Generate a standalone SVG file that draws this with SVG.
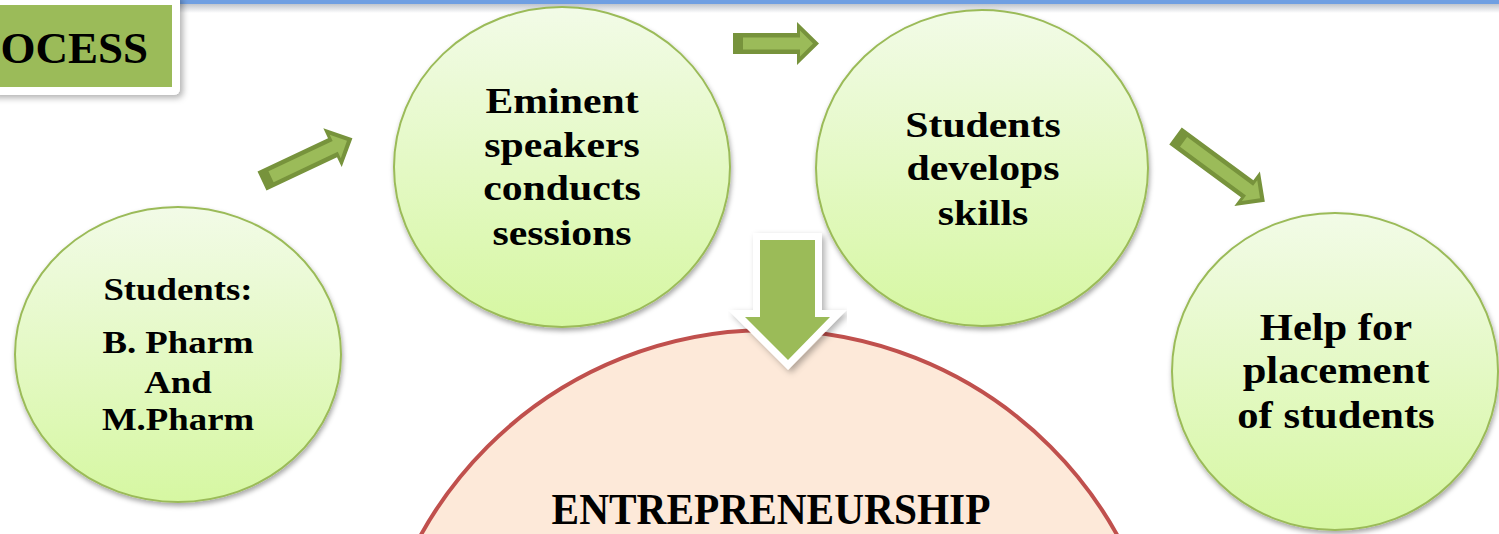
<svg xmlns="http://www.w3.org/2000/svg" width="1499" height="534" viewBox="0 0 1499 534">
<defs>
<linearGradient id="gfill" x1="0" y1="0" x2="0" y2="1">
<stop offset="0" stop-color="#F2FBE7"/>
<stop offset="1" stop-color="#D6F7A2"/>
</linearGradient>
<linearGradient id="topshade" x1="0" y1="0" x2="0" y2="1">
<stop offset="0" stop-color="#BFC4CC"/>
<stop offset="1" stop-color="#FFFFFF"/>
</linearGradient>
<filter id="shadow" x="-20%" y="-20%" width="140%" height="140%">
<feDropShadow dx="1" dy="3" stdDeviation="2.5" flood-color="#000" flood-opacity="0.35"/>
</filter>
<filter id="shadow2" x="-20%" y="-20%" width="140%" height="140%">
<feDropShadow dx="3" dy="3" stdDeviation="3" flood-color="#000" flood-opacity="0.3"/>
</filter>
</defs>
<style>
.node{fill:url(#gfill);stroke:#9BBB59;stroke-width:2;filter:url(#shadow)}
.lbl{font-family:"Liberation Serif","Times New Roman",serif;font-weight:bold;fill:#000;text-anchor:middle}
.aout{fill:#77933C}
.ain{fill:#9BBB59}
</style>
<rect x="0" y="0" width="1499" height="534" fill="#FFFFFF"/>
<rect x="0" y="4" width="1499" height="9" fill="url(#topshade)"/>
<rect x="0" y="0" width="1499" height="4" fill="#6F9FE2"/>

<g id="title">
<rect x="-12" y="-6" width="192" height="101" rx="6" fill="#FFFFFF" filter="url(#shadow2)"/>
<rect x="-12" y="5" width="184" height="82" fill="#9BBB59"/>
<text class="lbl" x="148" y="63" font-size="45" style="text-anchor:end">OCESS</text>
</g>

<g id="entrepreneurship">
<circle cx="769" cy="728" r="398" fill="#FDE9D9" stroke="#C0504D" stroke-width="4"/>
<text class="lbl" font-size="44" transform="translate(771,0) scale(0.94,1)" x="0" y="524">ENTREPRENEURSHIP</text>
</g>

<g id="students">
<ellipse class="node" cx="178" cy="354.5" rx="163" ry="147.5"/>
<g font-size="32" transform="translate(178,0) scale(1.15,1)">
<text class="lbl" x="0" y="300">Students:</text>
<text class="lbl" x="0" y="353">B. Pharm</text>
<text class="lbl" x="0" y="393">And</text>
<text class="lbl" x="0" y="430">M.Pharm</text>
</g>
</g>

<g id="speakers">
<ellipse class="node" cx="562" cy="167" rx="168" ry="160"/>
<g font-size="36" transform="translate(562,0) scale(1.16,1)">
<text class="lbl" x="0" y="113">Eminent</text>
<text class="lbl" x="0" y="157">speakers</text>
<text class="lbl" x="0" y="200">conducts</text>
<text class="lbl" x="0" y="245">sessions</text>
</g>
</g>

<g id="skills">
<ellipse class="node" cx="982" cy="168" rx="166" ry="158"/>
<g font-size="36" transform="translate(983,0) scale(1.16,1)">
<text class="lbl" x="0" y="137">Students</text>
<text class="lbl" x="0" y="180">develops</text>
<text class="lbl" x="0" y="225">skills</text>
</g>
</g>

<g id="placement">
<ellipse class="node" cx="1335" cy="371.5" rx="163" ry="158.5"/>
<g font-size="37" transform="translate(1336,0) scale(1.15,1)">
<text class="lbl" x="0" y="340">Help for</text>
<text class="lbl" x="0" y="383">placement</text>
<text class="lbl" x="0" y="428">of students</text>
</g>
</g>

<g id="connectors">
<g transform="translate(262,181) rotate(-25.3)">
<path class="aout" d="M0,-10.5 H78 V-21.5 L100,0 L78,21.5 V10.5 H0 Z"/>
<path class="ain" d="M10,-6 H81 V-13 L94,0 L81,13 V6 H10 Z"/>
</g>
<g transform="translate(733,43.5)">
<path class="aout" d="M0,-10.5 H64 V-21.5 L86,0 L64,21.5 V10.5 H0 Z"/>
<path class="ain" d="M10,-6 H67 V-13 L80,0 L67,13 V6 H10 Z"/>
</g>
<g transform="translate(1175.5,136) rotate(36.4)">
<path class="aout" d="M0,-10.5 H89 V-21.5 L111,0 L89,21.5 V10.5 H0 Z"/>
<path class="ain" d="M10,-6 H92 V-13 L105,0 L92,13 V6 H10 Z"/>
</g>
<g filter="url(#shadow2)">
<path d="M760,240 H815 V317 H830 L788,360 L745,317 H760 Z" fill="#9BBB59" stroke="#FFFFFF" stroke-width="14" stroke-linejoin="miter" paint-order="stroke"/>
</g>
</g>
</svg>
